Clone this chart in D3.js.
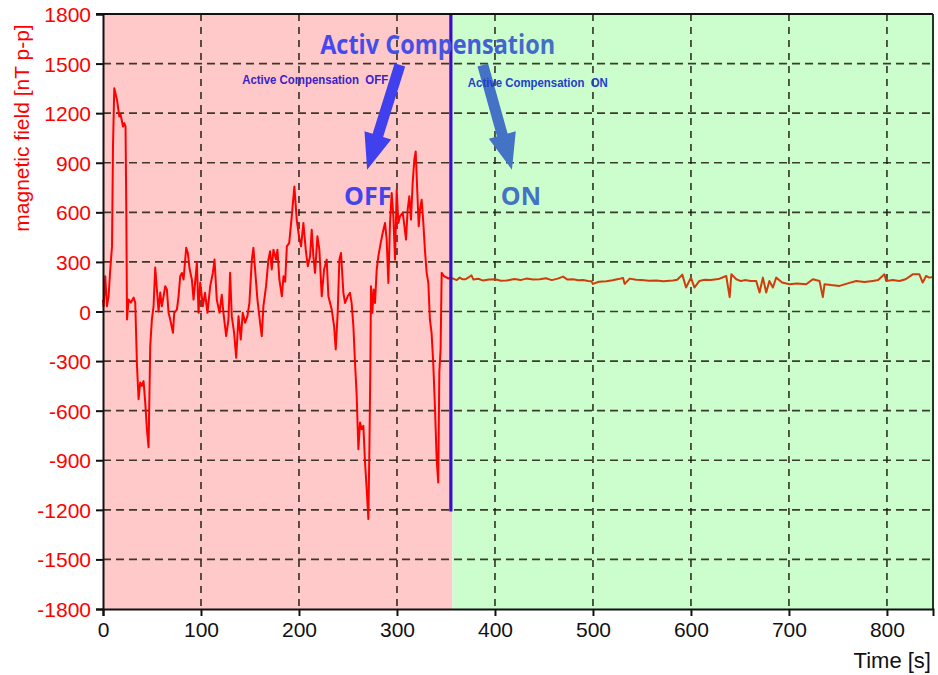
<!DOCTYPE html>
<html>
<head>
<meta charset="utf-8">
<script src="https://cdn.jsdelivr.net/npm/d3@7"></script>
<style>
  body { margin: 0; background: #fff; }
  svg { display: block; }
</style>
</head>
<body>
<script>
// time [s] / field [nT p-p], compensation switched off
var offTime = [0, 0.6, 2.3, 4, 5.7, 7.4, 9.2, 10.2, 11.5, 14.3, 16.6, 18, 20.4, 21.7, 23, 23.8, 24.5, 26.1, 28.5, 31.2,
  32.9, 34.7, 36.3, 38, 39.7, 41.4, 43.1, 44.8, 46.5, 48.2, 49.9, 51.6, 53.3, 55, 56.7, 58.4, 60, 61.8, 63.5, 65.2,
  66.9, 68.6, 71.4, 72.7, 75.4, 77.1, 78.8, 80.5, 82.2, 84.9, 86.6, 88.3, 90.7, 92.4, 95.8, 97.5, 99.2, 101.9, 104.1, 106.6,
  109.4, 112.1, 113.8, 116.1, 118.9, 121.2, 122.9, 125.7, 128, 129.7, 131.4, 133.8, 135.9, 138.3, 140.6, 142.6, 145, 147.4, 149.4, 151.9,
  153.5, 155.2, 157.6, 160.3, 162, 163.7, 166.4, 168.8, 170.5, 172.2, 173.9, 176.6, 178, 180, 182.5, 184.2, 185.9, 187.6, 190, 192.6,
  195.3, 197.7, 200, 202.1, 204.5, 206.9, 209, 211.3, 213, 214.7, 216.4, 218.8, 220.8, 223.2, 225.6, 228.3, 230, 233.4, 235.8, 237.5,
  239.5, 241.2, 242.9, 245.3, 247, 249.7, 252, 253.7, 255.5, 257.2, 258.9, 260.6, 262.3, 264, 265.7, 267.4, 269.1, 270.8, 271.8, 272.8,
  273.5, 274.9, 276.2, 277.6, 279.3, 281, 283.4, 285.4, 287.8, 289.5, 291.2, 292.9, 294.6, 296.3, 298, 299.7, 301.4, 303.1, 305.9, 307.6,
  309.2, 310.9, 312.6, 314.3, 316, 317.7, 319.1, 320.8, 322.2, 323.5, 325.2, 326.9, 328.5, 330.3, 332, 333.6, 335.3, 337, 338.7, 340.5,
  342.1, 343.2, 344.5, 345.6, 347.9, 352.3, 355];
var offField = [72, 32, 213, 32, 92, 254, 394, 998, 1351, 1280, 1180, 1190, 1119, 1140, 1119, 597, -48, 72, 54, 84,
  54, -330, -531, -429, -450, -421, -550, -713, -822, -209, -48, 32, 266, 133, 0, 115, 32, 92, 153, 133,
  -8, -48, -129, -8, 12, 92, 213, 233, 193, 385, 354, 260, 193, 72, 294, -8, 175, 32, 113, -8,
  153, 233, 314, 72, -8, 102, -8, -149, -48, 234, -28, -129, -280, -28, -169, -8, -68, -28, 52, 314,
  385, 254, 72, -68, -149, 32, 153, 314, 364, 254, 374, 314, 374, 193, 92, 213, 180, 394, 414, 576,
  757, 555, 454, 394, 535, 374, 274, 334, 495, 334, 234, 455, 374, 92, 254, 314, 92, 12, -88, -229,
  -8, 314, 354, 113, 52, 92, 113, 52, -88, -310, -511, -833, -672, -712, -692, -914, -1075, -1256, -853, -350,
  153, -8, 133, 52, 254, 334, 415, 475, 536, 434, 173, 536, 717, 577, 314, 737, 536, 577, 596, 516,
  435, 616, 697, 556, 777, 918, 968, 717, 516, 616, 676, 536, 374, 234, 173, -48, -129, -310, -571, -893,
  -1035, -370, -229, 234, 214, 200, 205];

// compensation switched on
var onTime = [355, 357.4, 361, 364, 367, 370, 373, 376, 378, 383, 388, 394, 400, 406, 411.8, 416, 420, 426, 432, 439,
  445.8, 452, 458, 464, 469.5, 474, 479.7, 485, 490, 495, 498.5, 500, 506, 513.8, 520, 526, 530.7, 532.4, 537.5, 544,
  550, 557, 564.7, 572, 581.7, 586, 591.2, 595, 600, 603.5, 608.6, 614, 620, 628, 636, 639.5, 641.2, 646.3, 651, 655,
  661, 666.6, 670, 673.4, 676.8, 680, 683.6, 687, 693, 700.6, 708, 717.6, 724.4, 731.2, 734.6, 736.3, 743, 751.6, 760, 768.6,
  777, 785.5, 791, 797.5, 799.2, 806, 812.7, 819, 826.3, 833.1, 836.5, 839.9, 843, 846.7];
var onField = [200, 199, 190, 205, 195, 195, 206, 219, 193, 198, 187, 193, 195, 186, 187, 192, 197, 190, 199, 193,
  195, 201, 190, 199, 211, 193, 195, 189, 190, 185, 183, 167, 180, 183, 189, 196, 203, 167, 199, 192,
  190, 186, 187, 183, 187, 192, 223, 145, 205, 145, 185, 192, 190, 196, 215, 87, 225, 195, 184, 190,
  185, 185, 115, 205, 115, 185, 145, 205, 176, 165, 170, 165, 195, 185, 87, 165, 160, 155, 170, 185,
  178, 185, 190, 225, 185, 190, 185, 195, 225, 225, 175, 215, 205, 209];

var xTicks = [0, 100, 200, 300, 400, 500, 600, 700, 800];
var yTicks = [-1800, -1500, -1200, -900, -600, -300, 0, 300, 600, 900, 1200, 1500, 1800];
var switchTime = 356.5;

var width = 938, height = 675;
var margin = { top: 14, right: 5, bottom: 65, left: 103 };

var svg = d3.select("body")
    .append("svg")
    .attr("width", width)
    .attr("height", height);

var x = d3.scaleLinear().domain([0, 847]).range([margin.left, width - margin.right]);
var y = d3.scaleLinear().domain([-1800, 1800]).range([height - margin.bottom - 1, margin.top]);

var defs = svg.append("defs");
var grad = defs.append("linearGradient").attr("id", "titleGrad");
grad.append("stop").attr("offset", "0%").attr("stop-color", "#4646f0");
grad.append("stop").attr("offset", "55%").attr("stop-color", "#4455e0");
grad.append("stop").attr("offset", "100%").attr("stop-color", "#4472c4");

// background regions
svg.append("rect")
    .attr("x", x(0)).attr("y", y(1800))
    .attr("width", x(switchTime) - x(0)).attr("height", y(-1800) - y(1800))
    .attr("fill", "#ffc9c9");
svg.append("rect")
    .attr("x", x(switchTime)).attr("y", y(1800))
    .attr("width", x(847) - x(switchTime)).attr("height", y(-1800) - y(1800))
    .attr("fill", "#ccfdcc");

// dashed grid
svg.append("g").selectAll("line")
    .data(xTicks.filter(function(d) { return d > 0; }))
    .enter().append("line")
    .attr("x1", function(d) { return x(d); }).attr("x2", function(d) { return x(d); })
    .attr("y1", y(1800)).attr("y2", y(-1800))
    .attr("stroke", "#1c1c10").attr("stroke-opacity", 0.85)
    .attr("stroke-width", 1.7).attr("stroke-dasharray", "7,6");
svg.append("g").selectAll("line")
    .data(yTicks.filter(function(d) { return Math.abs(d) < 1800; }))
    .enter().append("line")
    .attr("x1", x(0)).attr("x2", x(847))
    .attr("y1", function(d) { return y(d); }).attr("y2", function(d) { return y(d); })
    .attr("stroke", "#1c1c10").attr("stroke-opacity", 0.85)
    .attr("stroke-width", 1.7).attr("stroke-dasharray", "8,5");

// data lines
var line = d3.line()
    .x(function(d) { return x(d[0]); })
    .y(function(d) { return y(d[1]); });

svg.append("path")
    .datum(d3.zip(onTime, onField))
    .attr("d", line)
    .attr("fill", "none")
    .attr("stroke", "#d23c0c")
    .attr("stroke-width", 2)
    .attr("stroke-linejoin", "round");

svg.append("path")
    .datum(d3.zip(offTime, offField))
    .attr("d", line)
    .attr("fill", "none")
    .attr("stroke", "#ff0000")
    .attr("stroke-width", 2)
    .attr("stroke-linejoin", "round");

// switch marker
svg.append("line")
    .attr("x1", x(355)).attr("x2", x(355))
    .attr("y1", y(1800)).attr("y2", y(-1210))
    .attr("stroke", "#3311cc").attr("stroke-width", 3.2);

// frame
svg.append("line")
    .attr("x1", x(0) - 7).attr("x2", x(847)).attr("y1", y(1800)).attr("y2", y(1800))
    .attr("stroke", "#111").attr("stroke-width", 2);
svg.append("line")
    .attr("x1", x(847)).attr("x2", x(847)).attr("y1", y(1800)).attr("y2", y(-1800))
    .attr("stroke", "#1a3a1a").attr("stroke-width", 2);

// axes
var xAxis = svg.append("g")
    .attr("transform", "translate(0," + y(-1800) + ")")
    .call(d3.axisBottom(x).tickValues(xTicks).tickSize(7).tickPadding(6)
        .tickFormat(function(d) { return String(d); }));
var yAxis = svg.append("g")
    .attr("transform", "translate(" + x(0) + ",0)")
    .call(d3.axisLeft(y).tickValues(yTicks).tickSize(7).tickPadding(5)
        .tickFormat(function(d) { return String(d); }));

[xAxis, yAxis].forEach(function(a) {
    a.select(".domain").attr("stroke", "#111").attr("stroke-width", 2);
    a.selectAll(".tick line").attr("stroke", "#111").attr("stroke-width", 2);
    a.selectAll("text")
        .style("font-family", "'Liberation Sans', Arial, sans-serif")
        .style("font-size", "21px");
});
xAxis.selectAll("text").attr("fill", "#111");
yAxis.selectAll("text").attr("fill", "#ff0000").attr("dy", "0.36em");

svg.append("text")
    .attr("transform", "translate(29,128) rotate(-90)")
    .attr("text-anchor", "middle")
    .attr("fill", "#ff0000")
    .style("font-family", "'Liberation Sans', Arial, sans-serif")
    .style("font-size", "21px")
    .text("magnetic field [nT p-p]");

svg.append("text")
    .attr("x", 931).attr("y", 668)
    .attr("text-anchor", "end")
    .attr("fill", "#111")
    .style("font-family", "'Liberation Sans', Arial, sans-serif")
    .style("font-size", "22px")
    .text("Time [s]");

// annotations
function arrow(x0, y0, x1, y1, color) {
    var px0 = x(x0), py0 = y(y0), px1 = x(x1), py1 = y(y1);
    var dx = px1 - px0, dy = py1 - py0, len = Math.sqrt(dx * dx + dy * dy);
    var ux = dx / len, uy = dy / len, nx = -uy, ny = ux;
    var shaft = 5.5, head = 14, headLen = 36;
    var bx = px1 - ux * headLen, by = py1 - uy * headLen;
    var pts = [
        [px0 + nx * shaft, py0 + ny * shaft],
        [bx + nx * shaft, by + ny * shaft],
        [bx + nx * head, by + ny * head],
        [px1, py1],
        [bx - nx * head, by - ny * head],
        [bx - nx * shaft, by - ny * shaft],
        [px0 - nx * shaft, py0 - ny * shaft]
    ];
    svg.append("path")
        .attr("d", "M" + pts.map(function(p) { return p.join(","); }).join("L") + "Z")
        .attr("fill", color);
}
arrow(303, 1492, 269.5, 858, "#4040ee");
arrow(387.6, 1492, 417.3, 858, "#4472c4");

svg.append("text")
    .attr("x", x(221.6)).attr("y", y(1558))
    .attr("fill", "url(#titleGrad)")
    .attr("textLength", 235).attr("lengthAdjust", "spacingAndGlyphs")
    .style("font-family", "'Open Sans', sans-serif")
    .style("font-weight", "bold")
    .style("font-size", "26px")
    .text("Activ Compensation");

svg.append("text")
    .attr("x", x(142)).attr("y", y(1377))
    .attr("fill", "#3a22cc")
    .attr("textLength", 146).attr("lengthAdjust", "spacingAndGlyphs")
    .style("font-family", "'Liberation Sans', Arial, sans-serif")
    .style("font-weight", "bold")
    .style("font-size", "13px")
    .style("white-space", "pre")
    .text("Active Compensation  OFF");

svg.append("text")
    .attr("x", x(372.3)).attr("y", y(1359))
    .attr("fill", "#2240cc")
    .attr("textLength", 140).attr("lengthAdjust", "spacingAndGlyphs")
    .style("font-family", "'Liberation Sans', Arial, sans-serif")
    .style("font-weight", "bold")
    .style("font-size", "13px")
    .style("white-space", "pre")
    .text("Active Compensation  ON");

svg.append("text")
    .attr("x", x(246)).attr("y", y(646))
    .attr("fill", "#4444ee")
    .style("font-family", "'Open Sans', sans-serif")
    .style("font-weight", "bold")
    .style("font-size", "25px")
    .text("OFF");

svg.append("text")
    .attr("x", x(406)).attr("y", y(646))
    .attr("fill", "#4472c4")
    .style("font-family", "'Open Sans', sans-serif")
    .style("font-weight", "bold")
    .style("font-size", "25px")
    .text("ON");
</script>
</body>
</html>
